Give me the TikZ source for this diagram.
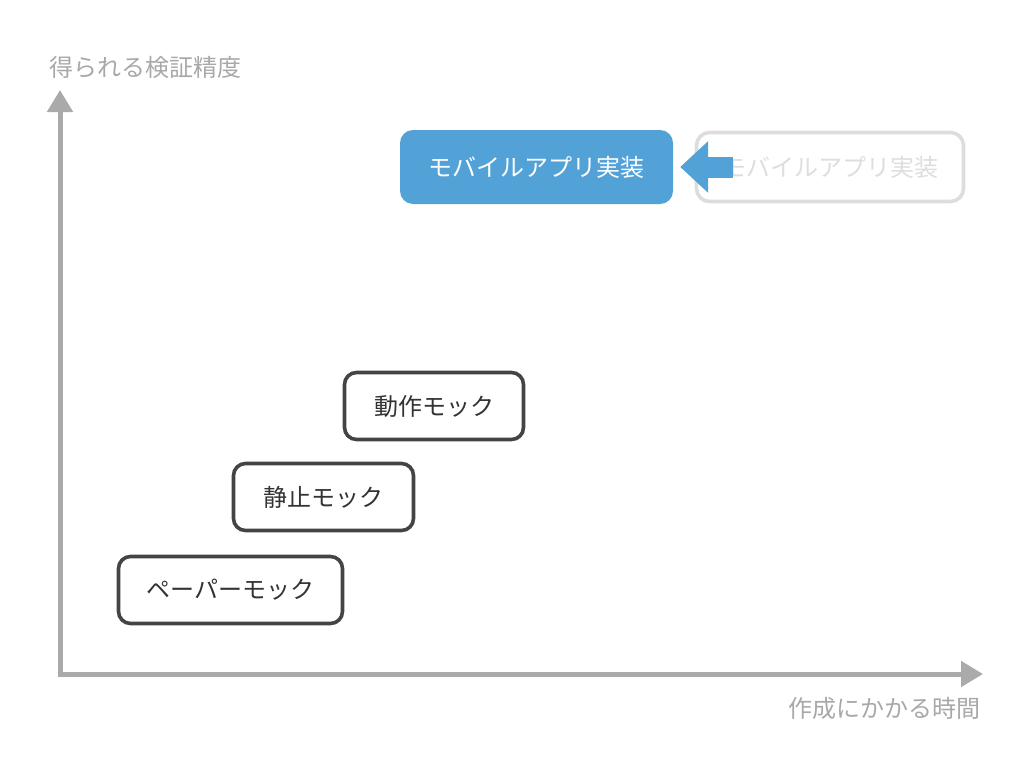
\documentclass[tikz,border=0pt]{standalone}
\usepackage{fontspec}
\newfontfamily\jp{Noto Sans CJK JP}
\usetikzlibrary{arrows.meta}
\definecolor{axisgray}{HTML}{AAAAAA}
\definecolor{labgray}{HTML}{A8A8A8}
\definecolor{boxdark}{HTML}{444444}
\definecolor{txtdark}{HTML}{333333}
\definecolor{appblue}{HTML}{52A2D8}
\definecolor{ghost}{HTML}{DDDDDD}
\begin{document}
\begin{tikzpicture}[x=1pt,y=-1pt,
  axis/.style={draw=axisgray,line width=5pt,-{Triangle[length=22pt,width=25pt]}},
  axlabel/.style={text=labgray,font=\jp\fontsize{24}{26}\selectfont,inner sep=0pt},
  mockbox/.style={draw=boxdark,line width=3.6pt,rounded corners=12pt,fill=white,
    text=txtdark,font=\jp\fontsize{24}{26}\selectfont,minimum height=67pt,inner sep=0pt},
  appbox/.style={fill=appblue,rounded corners=13pt,text=white,
    font=\jp\fontsize{24}{26}\selectfont,minimum width=273pt,minimum height=74pt,inner sep=0pt},
  ghostbox/.style={draw=ghost,line width=3.6pt,rounded corners=13pt,text=ghost,
    font=\jp\fontsize{24}{26}\selectfont,minimum width=267pt,minimum height=69pt,inner sep=0pt},
  blockarrow/.style={draw=appblue,line width=21pt,-{Triangle[length=28pt,width=50pt]}}
]
\useasboundingbox (0,0) rectangle (1024,768);
% axes
\coordinate (origin) at (60,674);
\coordinate (ytip) at (60,90);
\coordinate (xtip) at (983,674);
\draw[axis] ([yshift=2.5pt]origin) -- (ytip);
\draw[axis] ([xshift=-2.5pt]origin) -- (xtip);
\node[axlabel,anchor=west] (ylab) at (49,67) {得られる検証精度};
\node[axlabel,anchor=east] (xlab) at (981,708) {作成にかかる時間};
% boxes
\node[mockbox,minimum width=224pt] (paper) at (230.5,590) {ペーパーモック};
\node[mockbox,minimum width=180pt] (static) at (323.5,497) {静止モック};
\node[mockbox,minimum width=179pt] (motion) at (434,406) {動作モック};
\node[appbox] (app) at (536.5,167) {モバイルアプリ実装};
\node[ghostbox] (ghostapp) at (830,167) {モバイルアプリ実装};
% block arrow
\draw[blockarrow] ([xshift=38pt]ghostapp.west) -- ([xshift=7pt]app.east);
\end{tikzpicture}
\end{document}
